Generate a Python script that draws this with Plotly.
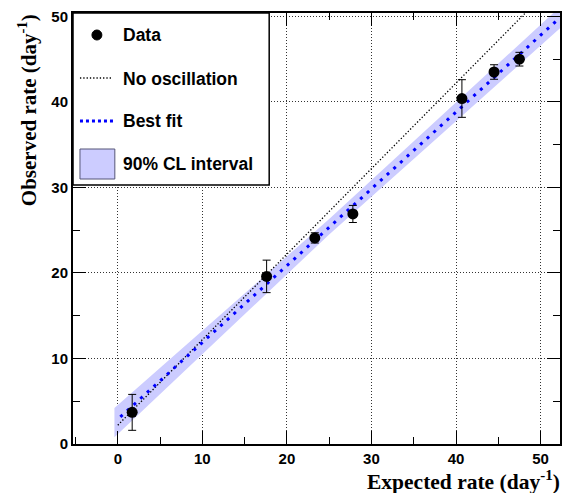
import plotly.graph_objects as go

# Data points
expected = [1.7, 17.6, 23.3, 27.8, 40.7, 44.5, 47.5]
observed = [3.7, 19.6, 24.1, 26.9, 40.4, 43.5, 45.0]
obs_err = [2.1, 1.9, 0.6, 1.0, 2.2, 0.85, 0.8]

# No-oscillation line
noosc_x = [0.0, 52.0]
noosc_y = [2.2, 54.2]

# Best fit line
fit_x = [0.3, 51.9]
fit_y = [3.17, 49.5]

# 90% CL band
band_x = [-0.4, 25.0, 52.5]
band_lo = [0.8, 24.5, 48.8]
band_hi = [4.2, 26.3, 51.3]

legend_labels = ["Data", "No oscillation", "Best fit", "90% CL interval"]

BAND_COLOR = "#ccccff"
BLUE = "#0000ff"

fig = go.Figure()

fig.add_trace(go.Scatter(
    x=band_x + band_x[::-1], y=band_lo + band_hi[::-1],
    fill="toself", fillcolor=BAND_COLOR, line=dict(width=0),
    mode="lines", hoverinfo="skip", showlegend=False))

fig.add_trace(go.Scatter(
    x=noosc_x, y=noosc_y, mode="lines",
    line=dict(color="black", width=1.3, dash="1.3px,2px"), showlegend=False))

fig.add_trace(go.Scatter(
    x=fit_x, y=fit_y, mode="lines",
    line=dict(color=BLUE, width=3, dash="3px,6px"), showlegend=False))

fig.add_trace(go.Scatter(
    x=expected, y=observed, mode="markers",
    marker=dict(color="black", size=11),
    error_y=dict(type="data", array=obs_err, color="black", thickness=1, width=4),
    showlegend=False))

W, H = 563, 493
L, R, T, B = 73, 1, 13, 49
pw, ph = W - L - R, H - T - B


def px(xp):
    return (xp - L) / pw


def py(yp):
    return (H - B - yp) / ph


tickfont = dict(family="Liberation Sans", size=15, color="black", weight="bold")
axis_common = dict(
    showline=True, linecolor="black", linewidth=2, mirror="ticks",
    ticks="inside", ticklen=13, tickwidth=1, tickcolor="black",
    showgrid=True, gridcolor="#333333", griddash="1px,2px", gridwidth=1,
    zeroline=False, tickfont=tickfont, tick0=0, dtick=10,
    ticklabeloverflow="allow",
    minor=dict(ticks="inside", ticklen=7, tickwidth=1, tickcolor="black",
               dtick=5, tick0=0, showgrid=False),
)

fig.update_xaxes(range=[-5.3, 52.3], **axis_common)
fig.update_yaxes(range=[0, 50.4], **axis_common)

shapes = []
annotations = []

# legend box
shapes.append(dict(type="rect", xref="paper", yref="paper",
                   x0=px(73), x1=px(270), y0=py(185), y1=py(13),
                   fillcolor="white", line=dict(color="black", width=1.5),
                   layer="above"))
# Data marker
shapes.append(dict(type="circle", xref="paper", yref="paper",
                   x0=px(92), x1=px(102), y0=py(40), y1=py(30),
                   fillcolor="black", line=dict(color="black", width=1),
                   layer="above"))
# No oscillation line
shapes.append(dict(type="line", xref="paper", yref="paper",
                   x0=px(80), x1=px(113), y0=py(78), y1=py(78),
                   line=dict(color="black", width=1.3, dash="1.3px,2px"),
                   layer="above"))
# Best fit line
shapes.append(dict(type="line", xref="paper", yref="paper",
                   x0=px(80), x1=px(115), y0=py(121), y1=py(121),
                   line=dict(color=BLUE, width=3, dash="3px,3px"),
                   layer="above"))
# CL box
shapes.append(dict(type="rect", xref="paper", yref="paper",
                   x0=px(80), x1=px(115), y0=py(179), y1=py(149),
                   fillcolor=BAND_COLOR, line=dict(color="#555577", width=1),
                   layer="above"))

legend_y = [35, 79, 121, 164]
legfont = dict(family="Liberation Sans", size=17.5, color="black", weight="bold")
for lab, yy in zip(legend_labels, legend_y):
    annotations.append(dict(text=lab, xref="paper", yref="paper",
                            x=px(121), y=py(yy), xanchor="left", yanchor="middle",
                            showarrow=False, font=legfont))

titlefont = dict(family="Liberation Serif", size=21.5, color="black", weight="bold")
annotations.append(dict(text="Expected rate (day<sup>-1</sup>)", xref="paper", yref="paper",
                        x=1.0, xshift=2, y=py(480), xanchor="right", yanchor="middle",
                        showarrow=False, font=titlefont))
yfont = dict(titlefont, size=21)
annotations.append(dict(text="Observed rate (day<sup>-1</sup>)", xref="paper", yref="paper",
                        x=px(27), y=py(12), xanchor="center", yanchor="top",
                        textangle=-90, showarrow=False, font=yfont))

fig.update_layout(
    width=W, height=H,
    margin=dict(l=L, r=R, t=T, b=B),
    paper_bgcolor="white", plot_bgcolor="white",
    shapes=shapes, annotations=annotations,
    showlegend=False,
)

fig.write_html("out.html",
               config={"displayModeBar": False},
               post_script="document.body.style.margin='0';"
                           "document.body.style.overflow='hidden';")
